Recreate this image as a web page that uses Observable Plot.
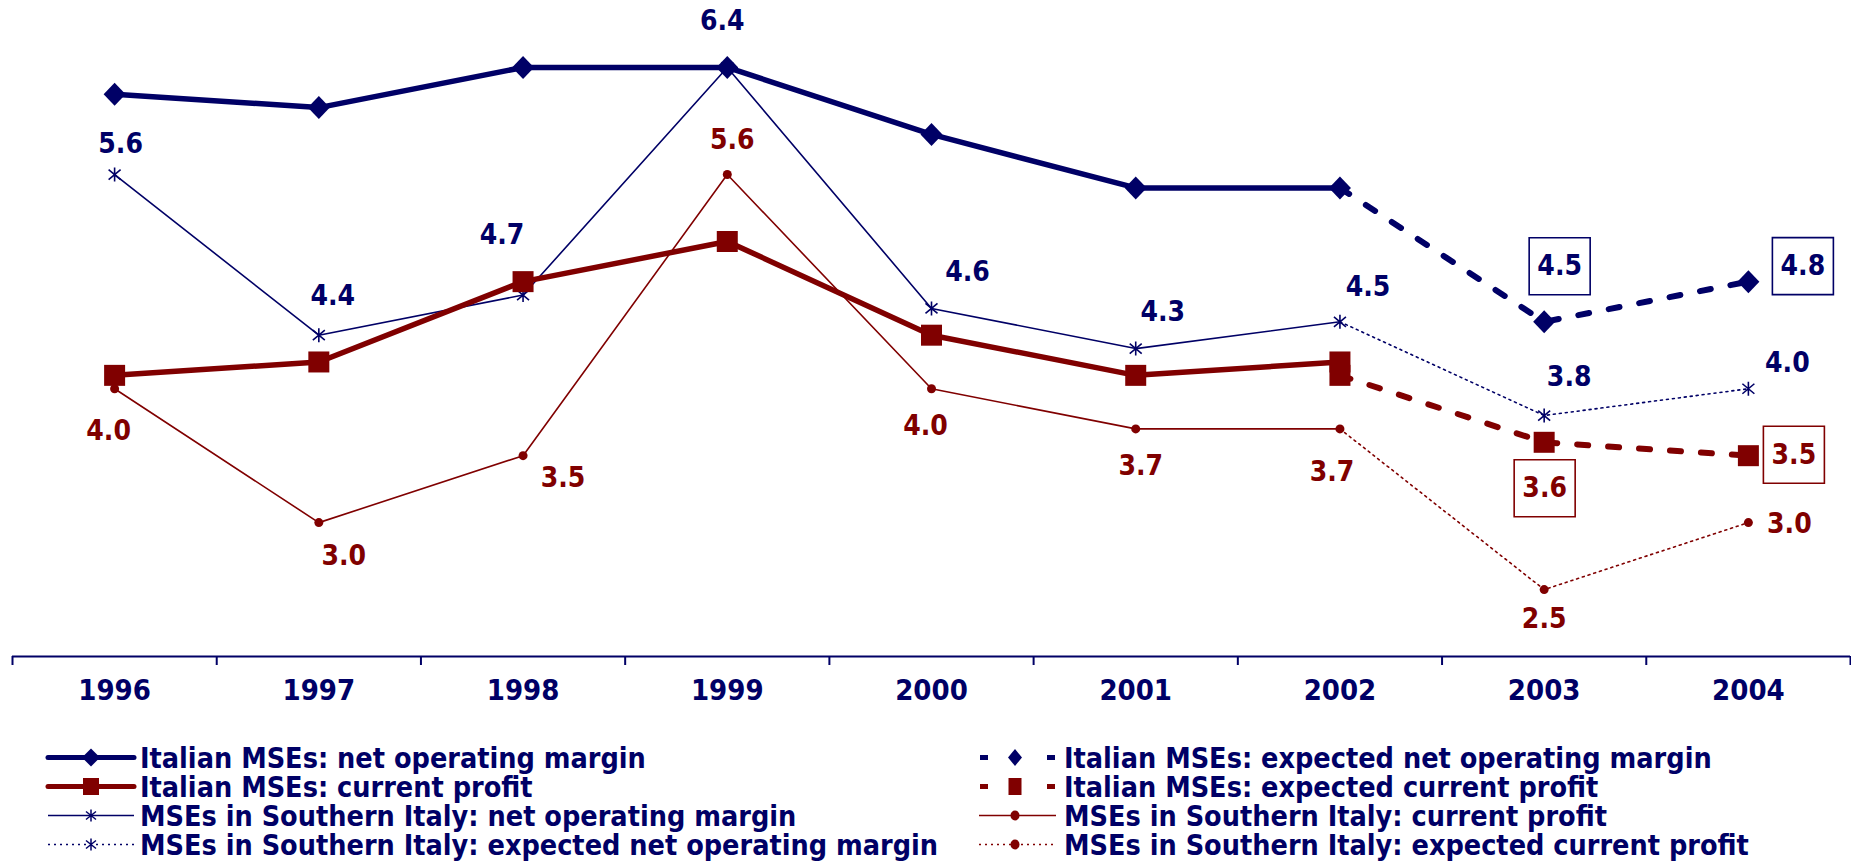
<!DOCTYPE html>
<html>
<head>
<meta charset="utf-8">
<script src="https://cdn.jsdelivr.net/npm/d3@7"></script>
<script src="https://cdn.jsdelivr.net/npm/@observablehq/plot@0.6"></script>
<style>
  body { margin: 0; background: #fff; }
  #chart svg { display: block; }
  #chart text, #legend text { font-stretch: condensed; }
</style>
</head>
<body>
<div id="chart"></div>
<div id="legend"></div>
<script>
// ---------- data ----------
const years = [1996, 1997, 1998, 1999, 2000, 2001, 2002, 2003, 2004];
const actualYears = [1996, 1997, 1998, 1999, 2000, 2001, 2002];
const expectedYears = [2002, 2003, 2004];

const italianNOM = [6.2, 6.1, 6.4, 6.4, 5.9, 5.5, 5.5];
const italianNOMExpected = [5.5, 4.5, 4.8];
const italianCP = [4.1, 4.2, 4.8, 5.1, 4.4, 4.1, 4.2];
const italianCPExpected = [4.1, 3.6, 3.5];
const southNOM = [5.6, 4.4, 4.7, 6.4, 4.6, 4.3, 4.5];
const southNOMExpected = [4.5, 3.8, 4.0];
const southCP = [4.0, 3.0, 3.5, 5.6, 4.0, 3.7, 3.7];
const southCPExpected = [3.7, 2.5, 3.0];

const legendLabels = [
  "Italian MSEs: net operating margin",
  "Italian MSEs: current profit",
  "MSEs in Southern Italy: net operating margin",
  "MSEs in Southern Italy: expected net operating margin",
  "Italian MSEs: expected net operating margin",
  "Italian MSEs: expected current profit",
  "MSEs in Southern Italy: current profit",
  "MSEs in Southern Italy: expected current profit"
];

// ---------- layout / style ----------
const navy = "#000066";
const maroon = "#800000";
const FONT = "'DejaVu Sans Condensed', 'DejaVu Sans', sans-serif";
const W = 1851, H = 725, AXIS_Y = 656;
const yDomain = [2, 6.9];
const tickLen = 9 * (yDomain[1] - yDomain[0]) / AXIS_Y; // 9px in data units

// label offsets (pixels) relative to their points
const southNOMLabelOffsets = [[6,-31],[14,-39],[-21,-60],[-5,-46],[36,-36],[27,-37],[28,-35],[25,-38],[39,-26]];
const southCPLabelOffsets = [[-6,42],[25,33],[40,22],[5,-35],[-6,37],[5,37],[-8,43],[0,29],[41,1]];
const nomBoxOffsets = [[15.5,-55.5],[54.5,-15.5]];
const cpBoxOffsets = [[0.5,46],[45.5,-1]];

const rows = (yrs, vals) => yrs.map((year, i) => ({year, value: vals[i]}));

const diamondSym = {draw(c){ c.moveTo(0,-11.5); c.lineTo(11,0); c.lineTo(0,11.5); c.lineTo(-11,0); c.closePath(); }};
const squareSym = {draw(c){ c.rect(-10.5,-10.5,21,21); }};
const asteriskSym = {draw(c){ c.moveTo(0,-7); c.lineTo(0,7); c.moveTo(-6,-5); c.lineTo(6,5); c.moveTo(-6,5); c.lineTo(6,-5); }};
const boxSym = {draw(c){ c.rect(-30.5,-28.5,61,57); }};

const iNOM = rows(actualYears, italianNOM), iNOMe = rows(expectedYears, italianNOMExpected);
const iCP = rows(actualYears, italianCP), iCPe = rows(expectedYears, italianCPExpected);
const sNOM = rows(actualYears, southNOM), sNOMe = rows(expectedYears, southNOMExpected);
const sCP = rows(actualYears, southCP), sCPe = rows(expectedYears, southCPExpected);

const sNOMall = rows(years, southNOM.concat(southNOMExpected.slice(1)));
const sCPall = rows(years, southCP.concat(southCPExpected.slice(1)));

const textStyle = {fontFamily: FONT, fontSize: 28, fontWeight: "bold"};

function labelMarks(data, offsets, color) {
  return data.map((d, i) => Plot.text([d], {
    x: "year", y: "value", text: d => d.value.toFixed(1),
    dx: offsets[i][0], dy: offsets[i][1], fill: color, ...textStyle
  }));
}
function boxMarks(data, offsets, color) {
  return data.flatMap((d, i) => [
    Plot.dot([d], {x: "year", y: "value", symbol: boxSym, fill: "white", stroke: color, strokeWidth: 1.6,
      dx: offsets[i][0], dy: offsets[i][1]}),
    Plot.text([d], {x: "year", y: "value", text: d => d.value.toFixed(1),
      dx: offsets[i][0], dy: offsets[i][1], fill: color, ...textStyle})
  ]);
}

const boundaries = d3.range(1995.5, 2005, 1);

const chart = Plot.plot({
  width: W, height: H,
  marginLeft: 12, marginRight: 1, marginTop: 0, marginBottom: H - AXIS_Y,
  x: {type: "linear", domain: [1995.5, 2004.5], axis: null},
  y: {domain: yDomain, axis: null},
  marks: [
    // axis
    Plot.ruleY([yDomain[0]], {stroke: navy, strokeWidth: 2}),
    Plot.ruleX(boundaries, {x: d => d, y1: yDomain[0], y2: yDomain[0] - tickLen, stroke: navy, strokeWidth: 2}),
    Plot.text(years, {x: d => d, frameAnchor: "bottom", dy: 43, text: d => String(d),
      fill: navy, fontFamily: FONT, fontSize: 29, fontWeight: "bold"}),
    // thin series
    Plot.line(sCP, {x: "year", y: "value", stroke: maroon, strokeWidth: 1.6}),
    Plot.line(sCPe, {x: "year", y: "value", stroke: maroon, strokeWidth: 1.6, strokeDasharray: "2,4"}),
    Plot.dot(sCP.concat(sCPe.slice(1)), {x: "year", y: "value", r: 4.5, fill: maroon, stroke: "none"}),
    Plot.line(sNOM, {x: "year", y: "value", stroke: navy, strokeWidth: 1.6}),
    Plot.line(sNOMe, {x: "year", y: "value", stroke: navy, strokeWidth: 1.6, strokeDasharray: "2,4"}),
    Plot.dot(sNOM.concat(sNOMe.slice(1)), {x: "year", y: "value", symbol: asteriskSym, fill: "none", stroke: navy, strokeWidth: 1.6}),
    // thick series
    Plot.line(iCP, {x: "year", y: "value", stroke: maroon, strokeWidth: 5.5}),
    Plot.line(iCPe, {x: "year", y: "value", stroke: maroon, strokeWidth: 6, strokeDasharray: "11,20"}),
    Plot.dot(iCP.concat(iCPe), {x: "year", y: "value", symbol: squareSym, fill: maroon, stroke: "none"}),
    Plot.line(iNOM, {x: "year", y: "value", stroke: navy, strokeWidth: 5.5}),
    Plot.line(iNOMe, {x: "year", y: "value", stroke: navy, strokeWidth: 6, strokeDasharray: "11,20"}),
    Plot.dot(iNOM.concat(iNOMe.slice(1)), {x: "year", y: "value", symbol: diamondSym, fill: navy, stroke: "none"}),
    // labels
    ...labelMarks(sNOMall, southNOMLabelOffsets, navy),
    ...labelMarks(sCPall, southCPLabelOffsets, maroon),
    ...boxMarks(iNOMe.slice(1), nomBoxOffsets, navy),
    ...boxMarks(iCPe.slice(1), cpBoxOffsets, maroon)
  ]
});
document.getElementById("chart").appendChild(chart);

// ---------- legend ----------
const legendSpec = [
  {col: 0, row: 0, color: navy, width: 5, kind: "solid", marker: "diamond"},
  {col: 0, row: 1, color: maroon, width: 5, kind: "solid", marker: "square"},
  {col: 0, row: 2, color: navy, width: 1.6, kind: "solid", marker: "asterisk"},
  {col: 0, row: 3, color: navy, width: 1.6, kind: "dotted", marker: "asterisk"},
  {col: 1, row: 0, color: navy, width: 5, kind: "dashed", marker: "diamond"},
  {col: 1, row: 1, color: maroon, width: 5, kind: "dashed", marker: "square"},
  {col: 1, row: 2, color: maroon, width: 1.6, kind: "solid", marker: "dot"},
  {col: 1, row: 3, color: maroon, width: 1.6, kind: "dotted", marker: "dot"}
];
const cols = [{x0: 48, x1: 134, mx: 91, tx: 140}, {x0: 979, x1: 1056, mx: 1015, tx: 1064}];
const rowY = [32.5, 61.5, 90.5, 119.5];

const leg = d3.create("svg").attr("width", W).attr("height", 863 - H).style("display", "block");
legendSpec.forEach((s, i) => {
  const c = cols[s.col], y = rowY[s.row];
  const g = leg.append("g");
  if (s.kind === "dashed") {
    g.append("rect").attr("x", c.x0 + 1).attr("y", y - 2.5).attr("width", 8).attr("height", 5).attr("fill", s.color);
    g.append("rect").attr("x", c.x1 - 9).attr("y", y - 2.5).attr("width", 8).attr("height", 5).attr("fill", s.color);
  } else {
    g.append("line").attr("x1", c.x0).attr("x2", c.x1).attr("y1", y).attr("y2", y)
      .attr("stroke", s.color).attr("stroke-width", s.width)
      .attr("stroke-dasharray", s.kind === "dotted" ? "2,4" : null)
      .attr("stroke-linecap", s.width > 3 ? "round" : "butt");
  }
  const small = s.kind === "dashed";
  if (s.marker === "diamond") {
    const w = small ? 7 : 9, h = small ? 8.5 : 9;
    g.append("path").attr("d", `M${c.mx},${y-h}L${c.mx+w},${y}L${c.mx},${y+h}L${c.mx-w},${y}Z`).attr("fill", s.color);
  } else if (s.marker === "square") {
    const w = small ? 13 : 16, h = 17;
    g.append("rect").attr("x", c.mx - w/2).attr("y", y - h/2).attr("width", w).attr("height", h).attr("fill", s.color);
  } else if (s.marker === "asterisk") {
    g.append("path").attr("d", `M${c.mx},${y-6}V${y+6}M${c.mx-5},${y-4}L${c.mx+5},${y+4}M${c.mx-5},${y+4}L${c.mx+5},${y-4}`)
      .attr("stroke", s.color).attr("stroke-width", 1.5).attr("fill", "none");
  } else if (s.marker === "dot") {
    g.append("ellipse").attr("cx", c.mx).attr("cy", y).attr("rx", 4.5).attr("ry", 5).attr("fill", s.color);
  }
  g.append("text").attr("x", c.tx).attr("y", y).attr("dy", "0.36em")
    .attr("fill", navy).attr("font-family", FONT).attr("font-size", 28.5).attr("font-weight", "bold")
    .text(legendLabels[i]);
});
document.getElementById("legend").appendChild(leg.node());
</script>
</body>
</html>
